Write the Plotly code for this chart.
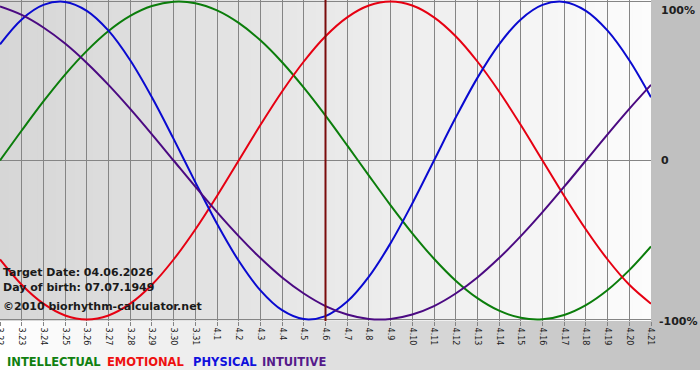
import plotly.graph_objects as go

# ---------------- data ----------------
dates = ["3.22", "3.23", "3.24", "3.25", "3.26", "3.27", "3.28", "3.29", "3.30", "3.31",
         "4.1", "4.2", "4.3", "4.4", "4.5", "4.6", "4.7", "4.8", "4.9", "4.10",
         "4.11", "4.12", "4.13", "4.14", "4.15", "4.16", "4.17", "4.18", "4.19", "4.20", "4.21"]

intellectual = [0.000, 0.189, 0.372, 0.541, 0.690, 0.815, 0.910, 0.972, 0.999, 0.990,
                0.945, 0.866, 0.756, 0.618, 0.458, 0.282, 0.095, -0.095, -0.282, -0.458,
                -0.618, -0.756, -0.866, -0.945, -0.990, -0.999, -0.972, -0.910, -0.815, -0.690, -0.541]

emotional = [-0.623, -0.782, -0.901, -0.975, -1.000, -0.975, -0.901, -0.782, -0.623, -0.434,
             -0.223, 0.000, 0.223, 0.434, 0.623, 0.782, 0.901, 0.975, 1.000, 0.975,
             0.901, 0.782, 0.623, 0.434, 0.223, 0.000, -0.223, -0.434, -0.623, -0.782, -0.901]

physical = [0.731, 0.888, 0.979, 0.998, 0.942, 0.817, 0.631, 0.398, 0.136, -0.136,
            -0.398, -0.631, -0.817, -0.942, -0.998, -0.979, -0.888, -0.731, -0.520, -0.270,
            0.000, 0.270, 0.520, 0.731, 0.888, 0.979, 0.998, 0.942, 0.817, 0.631, 0.398]

intuitive = [0.969, 0.916, 0.837, 0.736, 0.614, 0.476, 0.325, 0.165, 0.000, -0.165,
             -0.325, -0.476, -0.614, -0.736, -0.837, -0.916, -0.969, -0.997, -0.997, -0.969,
             -0.916, -0.837, -0.736, -0.614, -0.476, -0.325, -0.165, 0.000, 0.165, 0.325, 0.476]

target_date = "4.6"
y_tick_values = [1, 0, -1]
y_tick_labels = ["100%", "0", "-100%"]
info_lines = ["Target Date: 04.06.2026", "Day of birth: 07.07.1949", "©2010 biorhythm-calculator.net"]
series_names = ["INTELLECTUAL", "EMOTIONAL", "PHYSICAL", "INTUITIVE"]

# ---------------- styles ----------------
line_colors = ["#0b7d0b", "#e60012", "#0a0ad0", "#4b0a82"]
legend_colors = ["#108010", "#ee1111", "#1010dd", "#551a8b"]
legend_x_px = [7, 107, 193, 262]
FONT = "DejaVu Sans"

W, H = 700, 380
L, R, T, B = 0, 49, 0, 59
plot_w = W - L - R
plot_h = H - T - B

fig = go.Figure()

for name, vals, col in zip(series_names, [intellectual, emotional, physical, intuitive], line_colors):
    fig.add_trace(go.Scatter(x=dates, y=vals, mode="lines", name=name,
                             line=dict(color=col, width=2, shape="spline", smoothing=1.0),
                             hoverinfo="skip"))

shapes = []


def lerp(a, b, t):
    return int(round(a + (b - a) * t))


# plot area gradient (gray -> white)
N = 70
for i in range(N):
    t = (i + 0.5) / N
    g = lerp(214, 252, t)
    shapes.append(dict(type="rect", xref="paper", yref="paper",
                       x0=i / N, x1=(i + 1) / N + 0.002, y0=0, y1=1,
                       fillcolor=f"rgb({g},{g},{g})", line=dict(width=0), layer="below"))

# right column
shapes.append(dict(type="rect", xref="paper", yref="paper",
                   x0=1, x1=W / plot_w + 0.01, y0=0, y1=1.01,
                   fillcolor="rgb(192,192,192)", line=dict(width=0), layer="below"))

# bottom strip gradient (white -> gray)
y_bot = 1 - (370 - T) / plot_h
for i in range(N):
    t = (i + 0.5) / N
    g = lerp(255, 190, t)
    shapes.append(dict(type="rect", xref="paper", yref="paper",
                       x0=i / N * W / plot_w, x1=(i + 1) / N * W / plot_w + 0.003,
                       y0=y_bot, y1=0,
                       fillcolor=f"rgb({g},{g},{g})", line=dict(width=0), layer="below"))

fig.update_layout(shapes=shapes)

# target-date vertical line
fig.add_vline(x=dates.index(target_date), line=dict(color="#7a0c0c", width=2))

annotations = []
# right-hand percent labels
for v, lab in zip(y_tick_values, y_tick_labels):
    anchor = "top" if v == 1 else "middle"
    annotations.append(dict(xref="paper", yref="y", x=1, y=v, xanchor="left", yanchor=anchor,
                            xshift=8 if lab != "-100%" else 6,
                            yshift=(0 if v == 1 else (-2 if v == -1 else 0)),
                            text=f"<b>{lab}</b>", showarrow=False,
                            font=dict(family=FONT, size=11, color="#202020")))

# info texts inside plot
info_y_px = [272, 287, 306]
for txt, ypx in zip(info_lines, info_y_px):
    annotations.append(dict(xref="paper", yref="paper", x=0, y=1 - (ypx - T) / plot_h,
                            xanchor="left", yanchor="middle", xshift=1,
                            text=f"<b>{txt}</b>", showarrow=False,
                            font=dict(family=FONT, size=11, color="#1a1a1a")))

# colored legend words
for name, col, xpx in zip(series_names, legend_colors, legend_x_px):
    annotations.append(dict(xref="paper", yref="paper", x=(xpx - L) / plot_w, y=1 - (362 - T) / plot_h,
                            xanchor="left", yanchor="middle", xshift=-2,
                            text=f"<b>{name}</b>", showarrow=False,
                            font=dict(family=FONT, size=11.5, color=col)))

fig.update_layout(
    template="none",
    width=W, height=H,
    margin=dict(l=L, r=R, t=T, b=B, pad=0),
    paper_bgcolor="white",
    plot_bgcolor="rgba(0,0,0,0)",
    showlegend=False,
    annotations=annotations,
    xaxis=dict(type="category", range=[0, len(dates) - 1], showgrid=True, automargin=False,
               gridcolor="#858585", gridwidth=1, zeroline=False, showline=False,
               ticks="outside", ticklen=4, tickcolor="#858585", tickwidth=1,
               tickangle=90, tickfont=dict(family=FONT, size=8, color="#1a1a1a"),
               fixedrange=True),
    yaxis=dict(range=[-1.01, 1.01], tickvals=y_tick_values, showticklabels=False, automargin=False,
               showgrid=True, gridcolor="#858585", gridwidth=1, zeroline=False,
               showline=False, fixedrange=True),
)

fig.write_html("out.html", config={"displayModeBar": False, "staticPlot": True},
               post_script="document.body.style.margin='0';document.body.style.padding='0';")
